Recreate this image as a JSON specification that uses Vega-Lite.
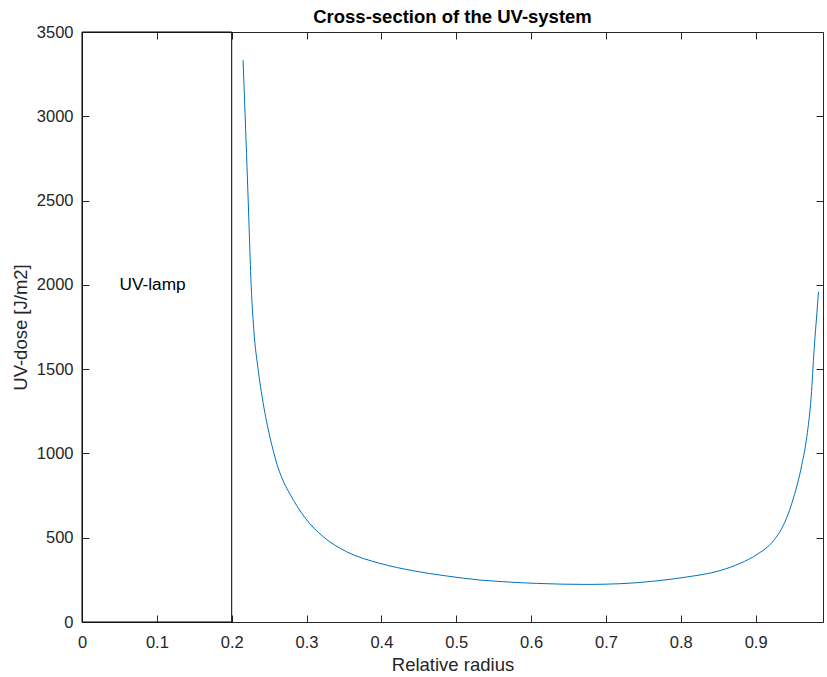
{
  "$schema": "https://vega.github.io/schema/vega-lite/v6.json",
  "width": 741,
  "height": 590,
  "autosize": "none",
  "padding": {"left": 82, "top": 32, "right": 4, "bottom": 55},
  "background": "white",
  "config": {
    "view": {"stroke": null},
    "font": "Liberation Sans",
    "axis": {
      "grid": false,
      "domainColor": "#262626",
      "domainWidth": 1,
      "tickColor": "#262626",
      "tickWidth": 1,
      "tickSize": -7,
      "labelColor": "#262626",
      "labelFont": "Liberation Sans",
      "labelFontSize": 16.5,
      "titleColor": "#262626",
      "titleFont": "Liberation Sans",
      "titleFontSize": 18.5,
      "titleFontWeight": "normal"
    }
  },
  "title": {
    "text": "Cross-section of the UV-system",
    "font": "Liberation Sans",
    "fontSize": 18.5,
    "fontWeight": "bold",
    "color": "#000000",
    "offset": -2
  },
  "layer": [
    {
      "data": {"values": [{"x0": 0, "x1": 0.2, "y0": 0, "y1": 3500}]},
      "mark": {"type": "rect", "fill": null, "stroke": "#000000", "strokeWidth": 1},
      "encoding": {
        "x": {"field": "x0", "type": "quantitative", "scale": {"domain": [0, 0.99], "nice": false, "zero": false},
          "axis": {"orient": "bottom", "title": "Relative radius", "format": "~g", "values": [0, 0.1, 0.2, 0.3, 0.4, 0.5, 0.6, 0.7, 0.8, 0.9], "labelPadding": 19, "titlePadding": 5, "labelFlush": false}},
        "x2": {"field": "x1"},
        "y": {"field": "y0", "type": "quantitative", "scale": {"domain": [0, 3500], "nice": false, "zero": false},
          "axis": {"orient": "left", "title": "UV-dose [J/m2]", "format": "d", "values": [0, 500, 1000, 1500, 2000, 2500, 3000, 3500], "labelPadding": 16, "titlePadding": 6, "labelFlush": false}},
        "y2": {"field": "y1"}
      }
    },
    {
      "data": {"values": [
        {"r": 0.2152, "dose": 3333},
        {"r": 0.2198, "dose": 2780},
        {"r": 0.2229, "dose": 2390},
        {"r": 0.2256, "dose": 2040},
        {"r": 0.2296, "dose": 1730},
        {"r": 0.2353, "dose": 1500},
        {"r": 0.2420, "dose": 1300},
        {"r": 0.2509, "dose": 1100},
        {"r": 0.2565, "dose": 1000},
        {"r": 0.2620, "dose": 915},
        {"r": 0.2695, "dose": 830},
        {"r": 0.2777, "dose": 760},
        {"r": 0.2977, "dose": 620},
        {"r": 0.3222, "dose": 506},
        {"r": 0.3535, "dose": 417},
        {"r": 0.3980, "dose": 348},
        {"r": 0.4425, "dose": 304},
        {"r": 0.4872, "dose": 273},
        {"r": 0.5317, "dose": 249},
        {"r": 0.5628, "dose": 239},
        {"r": 0.6075, "dose": 229},
        {"r": 0.6743, "dose": 223},
        {"r": 0.7189, "dose": 227},
        {"r": 0.7634, "dose": 242},
        {"r": 0.8080, "dose": 267},
        {"r": 0.8525, "dose": 305},
        {"r": 0.8793, "dose": 348},
        {"r": 0.9016, "dose": 400},
        {"r": 0.9238, "dose": 482},
        {"r": 0.9372, "dose": 575},
        {"r": 0.9505, "dose": 735},
        {"r": 0.9618, "dose": 935},
        {"r": 0.9684, "dose": 1099},
        {"r": 0.9742, "dose": 1336},
        {"r": 0.9782, "dose": 1620},
        {"r": 0.9818, "dose": 1831},
        {"r": 0.9840, "dose": 1959}
      ]},
      "mark": {"type": "line", "color": "#0072BD", "strokeWidth": 1, "interpolate": "monotone"},
      "encoding": {
        "x": {"field": "r", "type": "quantitative", "scale": {"domain": [0, 0.99], "nice": false, "zero": false},
          "axis": {"orient": "top", "title": null, "labels": false, "values": [0, 0.1, 0.2, 0.3, 0.4, 0.5, 0.6, 0.7, 0.8, 0.9]}},
        "y": {"field": "dose", "type": "quantitative", "scale": {"domain": [0, 3500], "nice": false, "zero": false},
          "axis": {"orient": "right", "title": null, "labels": false, "values": [0, 500, 1000, 1500, 2000, 2500, 3000, 3500]}}
      }
    },
    {
      "data": {"values": [{"tx": 0.05, "ty": 2000, "label": "UV-lamp"}]},
      "mark": {"type": "text", "align": "left", "baseline": "middle", "font": "Liberation Sans", "fontSize": 17.3, "color": "#000000"},
      "encoding": {
        "x": {"field": "tx", "type": "quantitative", "axis": null},
        "y": {"field": "ty", "type": "quantitative", "axis": null},
        "text": {"field": "label"}
      }
    }
  ],
  "resolve": {"axis": {"x": "independent", "y": "independent"}}
}
